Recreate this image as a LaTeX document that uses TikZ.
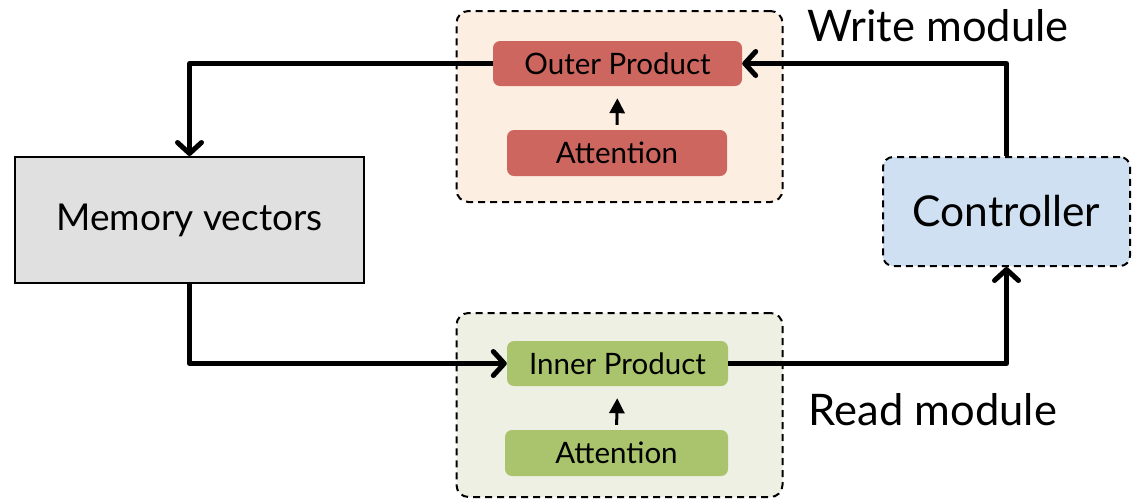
\documentclass[tikz,border=0pt]{standalone}
\usepackage{fontspec}
\setmainfont{Lato}
\usetikzlibrary{arrows.meta}
\definecolor{redbox}{HTML}{CD665F}
\definecolor{peach}{HTML}{FDEEE2}
\definecolor{greenbox}{HTML}{A9C46C}
\definecolor{lightgreen}{HTML}{EEF0E3}
\definecolor{ctrlblue}{HTML}{CFE0F2}
\definecolor{memgray}{HTML}{E0E0E0}
\tikzset{
  module/.style={draw, dashed, dash pattern=on 7pt off 5pt, line width=2pt, rounded corners=12pt, inner sep=0pt, minimum width=326pt},
  inbox/.style={rounded corners=7pt, inner sep=0pt, font=\fontsize{29.5}{34}\selectfont},
  flow/.style={line width=5pt, line join=round, -{Straight Barb[length=11pt,width=24pt,line cap=round,line join=round]}},
  small/.style={line width=3pt, -{Triangle[length=15pt,width=15pt]}, shorten <=5pt, shorten >=12pt},
  label/.style={font=\fontsize{43.5}{50}\selectfont, inner sep=0pt}
}
\begin{document}
\begin{tikzpicture}[x=1pt,y=-1pt]
\useasboundingbox[fill=white] (0,0) rectangle (1134,499);
% modules
\node[module, fill=peach, minimum height=191pt] (wmod) at (619.5,106.5) {};
\node[module, fill=lightgreen, minimum height=184pt] (rmod) at (619.5,405) {};
% inner boxes
\node[inbox, fill=redbox, minimum width=249pt, minimum height=45pt] (outer) at (617.5,63.5) {Outer Product};
\node[inbox, fill=redbox, minimum width=220pt, minimum height=46pt] (attw) at (617,153) {Attention};
\node[inbox, fill=greenbox, minimum width=221pt, minimum height=45pt] (inner) at (617.5,363.5) {Inner Product};
\node[inbox, fill=greenbox, minimum width=223pt, minimum height=46pt] (attr) at (616.5,453) {Attention};
% memory and controller
\node[draw, fill=memgray, line width=2pt, minimum width=349pt, minimum height=126pt, inner sep=0pt, font=\fontsize{37}{44}\selectfont] (mem) at (189.5,220) {Memory vectors};
\node[draw, fill=ctrlblue, dashed, dash pattern=on 7pt off 5pt, line width=2pt, rounded corners=10pt, minimum width=247pt, minimum height=109pt, inner sep=0pt, font=\fontsize{42.5}{50}\selectfont] (ctrl) at (1006.5,211.5) {Controller};
% labels
\node[label] (wlab) at (938,26) {Write module};
\node[label] (rlab) at (933,410) {Read module};
% connectors
\draw[flow] (outer.west) -| (mem.north);
\draw[flow] (mem.south) |- (inner.west);
\draw[flow] (inner.east) -| (ctrl.south);
\draw[flow] (ctrl.north) |- (outer.east);
\draw[small] (attw.north) -- (outer.south);
\draw[small] (attr.north) -- (inner.south);
\end{tikzpicture}
\end{document}
